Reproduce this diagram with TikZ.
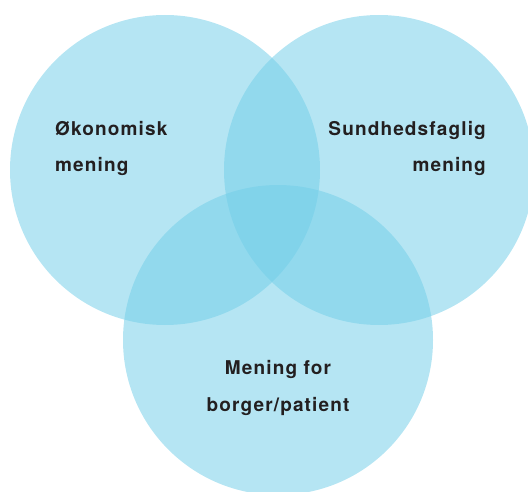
\documentclass[tikz,border=0pt]{standalone}
\usepackage{fontspec}
\setmainfont{TeX Gyre Heros}
\newfontfamily\lblfont[LetterSpace=6]{TeX Gyre Heros}
\definecolor{venn}{RGB}{115,206,232}
\definecolor{txt}{RGB}{35,31,32}
\tikzset{
  venncircle/.style={circle, fill=venn, fill opacity=0.53, draw=none, minimum size=310pt, inner sep=0pt},
  lbl/.style={font=\lblfont\fontsize{19}{36}\selectfont\bfseries, text=txt, inner sep=0pt}
}
\begin{document}
\begin{tikzpicture}[x=1pt,y=-1pt]
\useasboundingbox (0,0) rectangle (528,492);
\clip (0,0) rectangle (528,492);
\node[venncircle] (oek) at (165,170) {};
\node[venncircle] (sund) at (379,170) {};
\node[venncircle] (borg) at (278,340) {};
\node[lbl, anchor=base west] (oek1) at (55,136) {Økonomisk};
\node[lbl, anchor=base west] (oek2) at (55,172) {mening};
\node[lbl, anchor=base east] (sund1) at (486,136) {Sundhedsfaglig};
\node[lbl, anchor=base east] (sund2) at (486,172) {mening};
\node[lbl, anchor=base] (borg1) at (278,374) {Mening for};
\node[lbl, anchor=base] (borg2) at (278,411) {borger/patient};
\end{tikzpicture}
\end{document}
